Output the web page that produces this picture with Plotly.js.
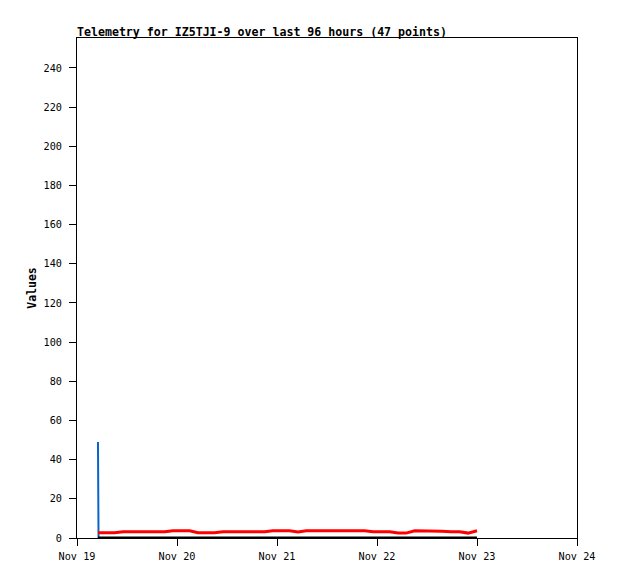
<!DOCTYPE html>
<html>
<head>
<meta charset="utf-8">
<script src="https://cdn.plot.ly/plotly-3.0.1.min.js"></script>
<style>html,body{margin:0;padding:0;background:#fff;}#chart{width:618px;height:579px;}</style>
</head>
<body>
<div id="chart"></div>
<script>
// Timestamps of the 47 telemetry points
var times = [
  "2024-11-19 05:02", "2024-11-19 05:10", "2024-11-19 07:05", "2024-11-19 09:01", "2024-11-19 11:03",
  "2024-11-19 13:00", "2024-11-19 15:04", "2024-11-19 17:02", "2024-11-19 19:00", "2024-11-19 21:05",
  "2024-11-19 23:02", "2024-11-20 01:00", "2024-11-20 03:04", "2024-11-20 05:01", "2024-11-20 07:03",
  "2024-11-20 09:00", "2024-11-20 11:02", "2024-11-20 13:05", "2024-11-20 15:00", "2024-11-20 17:03",
  "2024-11-20 19:01", "2024-11-20 21:04", "2024-11-20 23:00", "2024-11-21 01:02", "2024-11-21 03:00",
  "2024-11-21 05:03", "2024-11-21 07:01", "2024-11-21 09:04", "2024-11-21 11:00", "2024-11-21 13:02",
  "2024-11-21 15:05", "2024-11-21 17:00", "2024-11-21 19:03", "2024-11-21 21:01", "2024-11-21 23:04",
  "2024-11-22 01:00", "2024-11-22 03:02", "2024-11-22 05:05", "2024-11-22 07:00", "2024-11-22 09:03",
  "2024-11-22 11:01", "2024-11-22 13:04", "2024-11-22 15:30", "2024-11-22 17:46", "2024-11-22 19:50",
  "2024-11-22 21:52", "2024-11-23 00:00"
];
// Series values
var blueValues = [
  49, 0, 0, 0, 0, 0, 0, 0, 0, 0, 0, 0, 0, 0, 0, 0, 0, 0, 0, 0, 0, 0, 0, 0,
  0, 0, 0, 0, 0, 0, 0, 0, 0, 0, 0, 0, 0, 0, 0, 0, 0, 0, 0, 0, 0, 0, 0
];
var redValues = [
  2.7, 2.7, 2.7, 2.7, 3.2, 3.2, 3.2, 3.2, 3.2, 3.2,
  3.7, 3.7, 3.7, 2.7, 2.7, 2.7, 3.2, 3.2, 3.2, 3.2,
  3.2, 3.2, 3.7, 3.7, 3.7, 3.1, 3.7, 3.7, 3.7, 3.7,
  3.7, 3.7, 3.7, 3.7, 3.2, 3.2, 3.2, 2.5, 2.5, 3.7,
  3.7, 3.7, 3.4, 3.2, 3.2, 2.5, 3.7
];
var blackValues = [
  0, 0, 0, 0, 0, 0, 0, 0, 0, 0, 0, 0, 0, 0, 0, 0, 0, 0, 0, 0, 0, 0, 0, 0,
  0, 0, 0, 0, 0, 0, 0, 0, 0, 0, 0, 0, 0, 0, 0, 0, 0, 0, 0, 0, 0, 0, 0
];
// Axis ticks
var xTickVals = ["2024-11-19", "2024-11-20", "2024-11-21", "2024-11-22", "2024-11-23", "2024-11-24"];
var xTickText = ["Nov 19", "Nov 20", "Nov 21", "Nov 22", "Nov 23", "Nov 24"];
var yTickVals = [0, 20, 40, 60, 80, 100, 120, 140, 160, 180, 200, 220, 240];

var mono = "DejaVu Sans Mono, Liberation Mono, monospace";

var traces = [
  {x: times, y: blueValues, type: "scatter", mode: "lines", line: {color: "#0a64c8", width: 2}, hoverinfo: "skip"},
  {x: times, y: redValues, type: "scatter", mode: "lines", line: {color: "#ff0000", width: 3}, hoverinfo: "skip"},
  {x: times, y: blackValues, type: "scatter", mode: "lines", line: {color: "#000000", width: 3}, hoverinfo: "skip"}
];

var layout = {
  width: 618, height: 579,
  margin: {l: 77, r: 41, t: 38, b: 41, pad: 0},
  paper_bgcolor: "#ffffff", plot_bgcolor: "#ffffff",
  showlegend: false,
  title: {
    text: "<b>Telemetry for IZ5TJI-9 over last 96 hours (47 points)</b>",
    font: {family: mono, size: 11.6, color: "#000"},
    x: 77 / 618, xref: "container", xanchor: "left",
    y: 1 - 31.5 / 579, yref: "container", yanchor: "middle"
  },
  xaxis: {
    type: "date",
    range: ["2024-11-19 00:00", "2024-11-24 00:00"],
    tickmode: "array", tickvals: xTickVals, ticktext: xTickText,
    ticks: "outside", ticklen: 7, tickwidth: 1, tickcolor: "#000",
    ticklabelstandoff: 2,
    showgrid: false, zeroline: false,
    showline: true, linecolor: "#000", linewidth: 1, mirror: true,
    tickfont: {family: mono, size: 10.2, color: "#000"}
  },
  yaxis: {
    range: [0, 255.3],
    tickmode: "array", tickvals: yTickVals,
    ticks: "outside", ticklen: 7, tickwidth: 1, tickcolor: "#000",
    ticklabelstandoff: 5,
    showgrid: false, zeroline: false,
    showline: true, linecolor: "#000", linewidth: 1, mirror: true,
    tickfont: {family: mono, size: 10.2, color: "#000"},
    title: {text: "<b>Values</b>", font: {family: mono, size: 11.5, color: "#000"}, standoff: 4}
  }
};

Plotly.newPlot("chart", traces, layout, {staticPlot: true, displayModeBar: false});
</script>
</body>
</html>
